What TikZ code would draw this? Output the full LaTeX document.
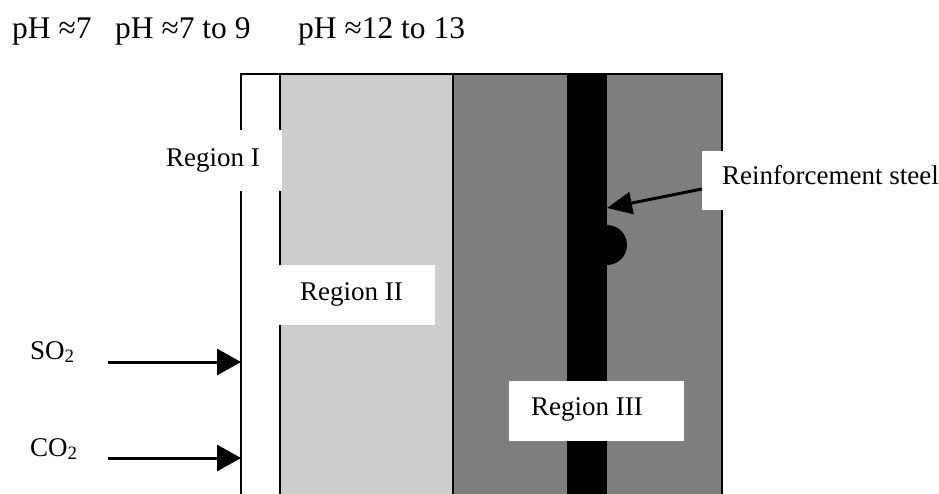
\documentclass[tikz,border=0pt]{standalone}
\usepackage{fontspec}
\setmainfont{Liberation Serif}
\usetikzlibrary{arrows.meta}
\definecolor{lightconc}{HTML}{CDCDCD}
\definecolor{darkconc}{HTML}{7E7E7E}
\begin{document}
\begin{tikzpicture}[x=1pt,y=-1pt,
  txt/.style={font=\fontsize{27}{30}\selectfont,inner sep=0pt,anchor=base west},
  phtxt/.style={font=\fontsize{31.5}{34}\selectfont,inner sep=0pt,anchor=base west},
  wbox/.style={fill=white,draw=none},
  edge/.style={line width=1.6pt},
  gasarrow/.style={line width=3pt,-{Triangle[length=24pt,width=26pt]}},
  ptr/.style={line width=3pt,-{Triangle[length=25pt,width=22pt]}}]
\useasboundingbox (0,0) rectangle (939,494);

% concrete layers
\fill[lightconc] (280,74) rectangle (453,494);
\fill[darkconc] (453,74) rectangle (722,494);
% reinforcement bar with corrosion bump
\fill[black] (567,74) rectangle (607,494);
\fill[black] (607,265) arc[start angle=90,end angle=-90,radius=20];

% outline and layer boundaries
\draw[edge] (241,494) -- (241,74) -- (722,74) -- (722,494);
\draw[edge] (280,74) -- (280,494);
\draw[edge] (453,74) -- (453,494);

% label boxes
\fill[wbox] (150,130) rectangle (281.5,191);
\fill[wbox] (278,265) rectangle (435,325);
\fill[wbox] (509,381) rectangle (684,441);
\fill[wbox] (702,151) rectangle (939,210);

% pH labels
\node[phtxt] (ph1) at (12,39) {pH ≈7};
\node[phtxt] (ph2) at (115,39) {pH ≈7 to 9};
\node[phtxt] (ph3) at (298,39) {pH ≈12 to 13};

% region labels
\node[txt] (r1) at (166,167) {Region I};
\node[txt] (r2) at (300,300) {Region II};
\node[txt] (r3) at (531,415) {Region III};
\node[txt] (steel) at (722,185) {Reinforcement steel};

% gases
\node[txt] (so2) at (30,359) {SO\textsubscript{2}};
\node[txt] (co2) at (30,456) {CO\textsubscript{2}};

\coordinate (so2s) at (108,362);
\coordinate (so2e) at (241,362);
\coordinate (co2s) at (108,458);
\coordinate (co2e) at (241,458);
\draw[gasarrow] (so2s) -- (so2e);
\draw[gasarrow] (co2s) -- (co2e);

\coordinate (steels) at (702,189);
\coordinate (steele) at (607,208);
\draw[ptr] (steels) -- (steele);
\end{tikzpicture}
\end{document}
